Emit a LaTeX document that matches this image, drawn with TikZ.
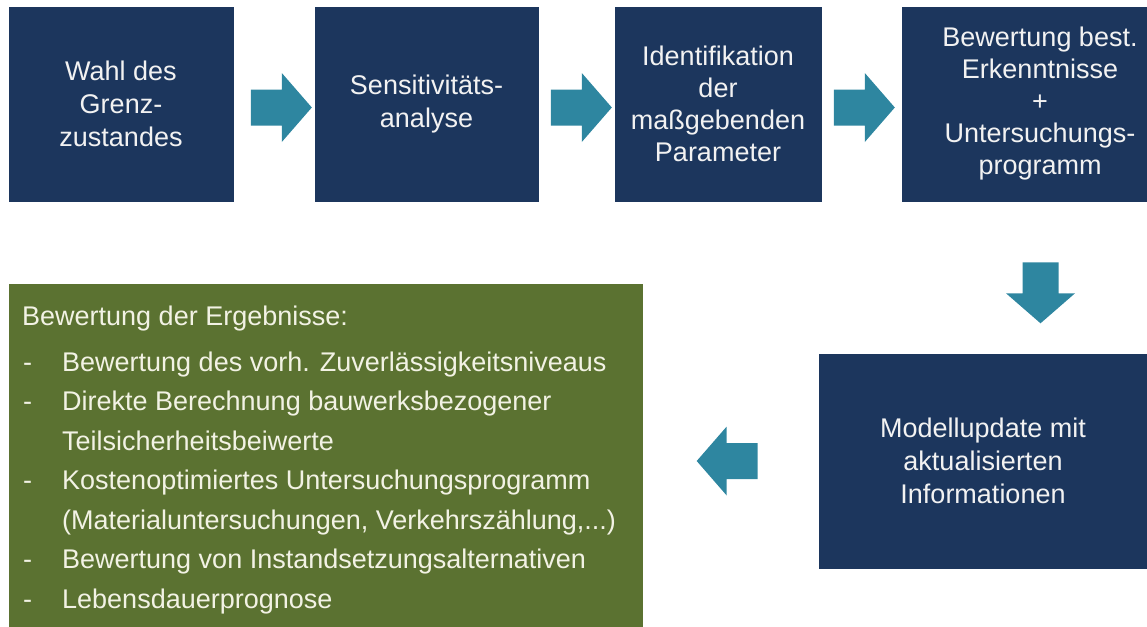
\documentclass[tikz,border=0pt]{standalone}
\usepackage{fontspec}
\setmainfont{Liberation Sans}
\usetikzlibrary{calc}
\definecolor{navybox}{RGB}{28,54,93}
\definecolor{arrowteal}{RGB}{46,134,160}
\definecolor{olivebox}{RGB}{91,114,49}
\definecolor{boxtext}{RGB}{242,242,242}
\definecolor{greentext}{RGB}{242,242,228}
\begin{document}
\begin{tikzpicture}[x=1pt,y=-1pt,
  box/.style={fill=navybox, draw=navybox, line width=0.6pt, text=boxtext, align=center,
    font=\fontsize{27}{33}\selectfont, inner sep=0pt},
  greenbox/.style={fill=olivebox, draw=olivebox, inner sep=0pt},
  gtext/.style={anchor=base west, inner sep=0pt, text=greentext, font=\fontsize{27}{33}\selectfont},
  blockarrow/.pic={\fill[arrowteal] (-30.5,-18) -- (0.5,-18) -- (0.5,-34.5) -- (30.5,0)
      -- (0.5,34.5) -- (0.5,18) -- (-30.5,18) -- cycle;}
]
\useasboundingbox (0,0) rectangle (1147,626);
\clip (0,0) rectangle (1147,626);

% top row
\node[box, minimum width=224pt, minimum height=194pt] (b1) at (121,104) {Wahl des\\Grenz-\\zustandes};
\node[box, minimum width=223pt, minimum height=194pt] (b2) at (426.5,104) {Sensitivitäts-\\analyse};
\node[box, minimum width=206pt, minimum height=194pt, font=\fontsize{27}{32}\selectfont] (b3) at (718,104) {Identifikation\\der\\maßgebenden\\Parameter};
\node[box, minimum width=276pt, minimum height=194pt, font=\fontsize{27}{32}\selectfont] (b4) at (1040,104) {Bewertung best.\\Erkenntnisse\\+\\Untersuchungs-\\programm};

% second row
\node[box, minimum width=328pt, minimum height=214pt] (b5) at (983,461) {Modellupdate mit\\aktualisierten\\Informationen};
\node[greenbox, minimum width=633pt, minimum height=360pt, anchor=north west] (g) at (9,284) {};

% block arrows
\pic at ($(b1.east)+(48,3.5)$) {blockarrow};
\pic at ($(b2.east)+(43,3.5)$) {blockarrow};
\pic at ($(b3.east)+(43,3.5)$) {blockarrow};
\pic[rotate=-90] at ($(b4.south)+(0.5,91.5)$) {blockarrow};
\pic[rotate=180] at ($(b5.west)+(-91.5,0)$) {blockarrow};

% green box text
\node[gtext] (h) at (22,325) {Bewertung der Ergebnisse:};
\node[gtext] (d1) at (23,371) {-};
\node[gtext] (t1) at (62,371) {Bewertung des vorh. Zuverlässigkeitsniveaus};
\node[gtext] (d2) at (23,410.5) {-};
\node[gtext] (t2) at (62,410.5) {Direkte Berechnung bauwerksbezogener};
\node[gtext] (t2b) at (62,450) {Teilsicherheitsbeiwerte};
\node[gtext] (d3) at (23,489.5) {-};
\node[gtext] (t3) at (62,489.5) {Kostenoptimiertes Untersuchungsprogramm};
\node[gtext] (t3b) at (62,529) {(Materialuntersuchungen, Verkehrszählung,...)};
\node[gtext] (d4) at (23,568.5) {-};
\node[gtext] (t4) at (62,568.5) {Bewertung von Instandsetzungsalternativen};
\node[gtext] (d5) at (23,608) {-};
\node[gtext] (t5) at (62,608) {Lebensdauerprognose};
\end{tikzpicture}
\end{document}
